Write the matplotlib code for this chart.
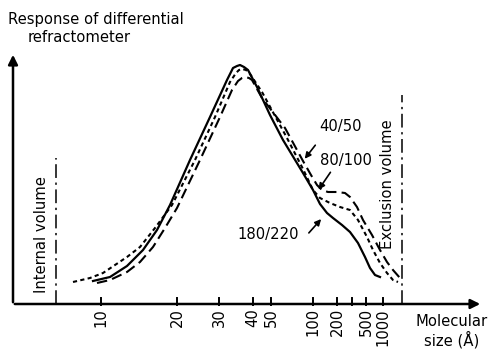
import matplotlib
matplotlib.use("Agg")
import matplotlib.pyplot as plt

# elution position (arbitrary units from the origin) and detector response
x_180_220 = [80, 97, 114, 130, 144, 157, 177, 197, 214, 220, 224, 227, 231, 235, 244, 257, 270,
             290, 300, 307, 314, 320, 329, 337, 345, 352, 357, 362, 367]
y_180_220 = [23, 27, 38, 54, 74, 99, 144, 187, 224, 236, 238, 239, 237, 234, 217, 189, 164,
             131, 114, 100, 91, 86, 79, 72, 61, 47, 36, 29, 27]

x_80_100 = [60, 77, 90, 114, 127, 142, 159, 182, 202, 217, 223, 226, 229, 233, 237, 249, 274,
            290, 300, 307, 317, 327, 337, 345, 354, 360, 367, 374, 380, 385]
y_80_100 = [22, 26, 31, 47, 57, 76, 99, 144, 187, 222, 231, 234, 235, 234, 230, 212, 166,
            135, 114, 106, 101, 97, 94, 84, 67, 54, 41, 31, 24, 22]

x_40_50 = [84, 97, 114, 127, 140, 152, 164, 187, 207, 219, 225, 229, 232, 236, 239, 249, 272,
           290, 298, 304, 309, 315, 324, 332, 337, 344, 350, 359, 367, 374, 380, 387]
y_40_50 = [21, 24, 32, 42, 57, 76, 96, 144, 187, 214, 223, 226, 227, 226, 224, 206, 176,
           143, 129, 119, 114, 112, 112, 111, 107, 97, 84, 69, 54, 42, 34, 26]

# molecular size tick marks along the elution axis
tick_pos = [88, 164, 206, 240, 258, 300, 324, 339, 353, 370]
tick_labels = ["10", "20", "30", "40", "50", "100", "200", "", "500", "1000"]

internal_x = 43
exclusion_x = 389

fig = plt.figure(figsize=(4.88, 3.49), dpi=100)
ax = fig.add_axes([0, 0, 1, 1])
ax.set_xlim(-13, 475)
ax.set_ylim(-45, 304)
ax.axis("off")

fs = 10.6

# curves
ax.plot(x_180_220, y_180_220, color="black", lw=1.6, solid_joinstyle="round")
ax.plot(x_80_100, y_80_100, color="black", lw=1.5, linestyle=(0, (2, 1.6)))
ax.plot(x_40_50, y_40_50, color="black", lw=1.5, linestyle=(0, (5, 2.5)))

# axes with arrows
ax.annotate("", xy=(0, 252), xytext=(0, -1),
            arrowprops=dict(arrowstyle="-|>", lw=1.8, color="black", mutation_scale=14))
ax.annotate("", xy=(470, 0), xytext=(-1, 0),
            arrowprops=dict(arrowstyle="-|>", lw=1.8, color="black", mutation_scale=14))

for p, lab in zip(tick_pos, tick_labels):
    ax.plot([p, p], [-1, 6], color="black", lw=1.4)
    if lab:
        ax.text(p, -4, lab, rotation=90, ha="center", va="top", fontsize=fs)

# internal / exclusion volume markers
ax.plot([internal_x, internal_x], [0, 146], color="black", lw=1.1,
        linestyle=(0, (9, 3, 1.5, 3)))
ax.plot([exclusion_x, exclusion_x], [0, 209], color="black", lw=1.1,
        linestyle=(0, (9, 3, 1.5, 3)))
ax.text(28, 69, "Internal volume", rotation=90, ha="center", va="center", fontsize=fs)
ax.text(374, 120, "Exclusion volume", rotation=90, ha="center", va="center", fontsize=fs)

# curve labels with arrows
arrow = dict(arrowstyle="-|>", lw=1.2, color="black", mutation_scale=9)
ax.text(327, 177, "40/50", ha="center", va="center", fontsize=fs)
ax.annotate("", xy=(290, 143), xytext=(304, 161), arrowprops=arrow)
ax.text(333, 143, "80/100", ha="center", va="center", fontsize=fs)
ax.annotate("", xy=(304, 112), xytext=(319, 134), arrowprops=arrow)
ax.text(255, 69, "180/220", ha="center", va="center", fontsize=fs)
ax.annotate("", xy=(310, 87), xytext=(294, 69), arrowprops=arrow)

# axis titles
ax.text(-5, 280, "Response of differential", ha="left", va="baseline", fontsize=fs)
ax.text(15, 262, "refractometer", ha="left", va="baseline", fontsize=fs)
ax.text(439, -10, "Molecular\nsize (Å)", ha="center", va="top", fontsize=fs,
        linespacing=1.15)

fig.savefig("out.png", dpi=100)
